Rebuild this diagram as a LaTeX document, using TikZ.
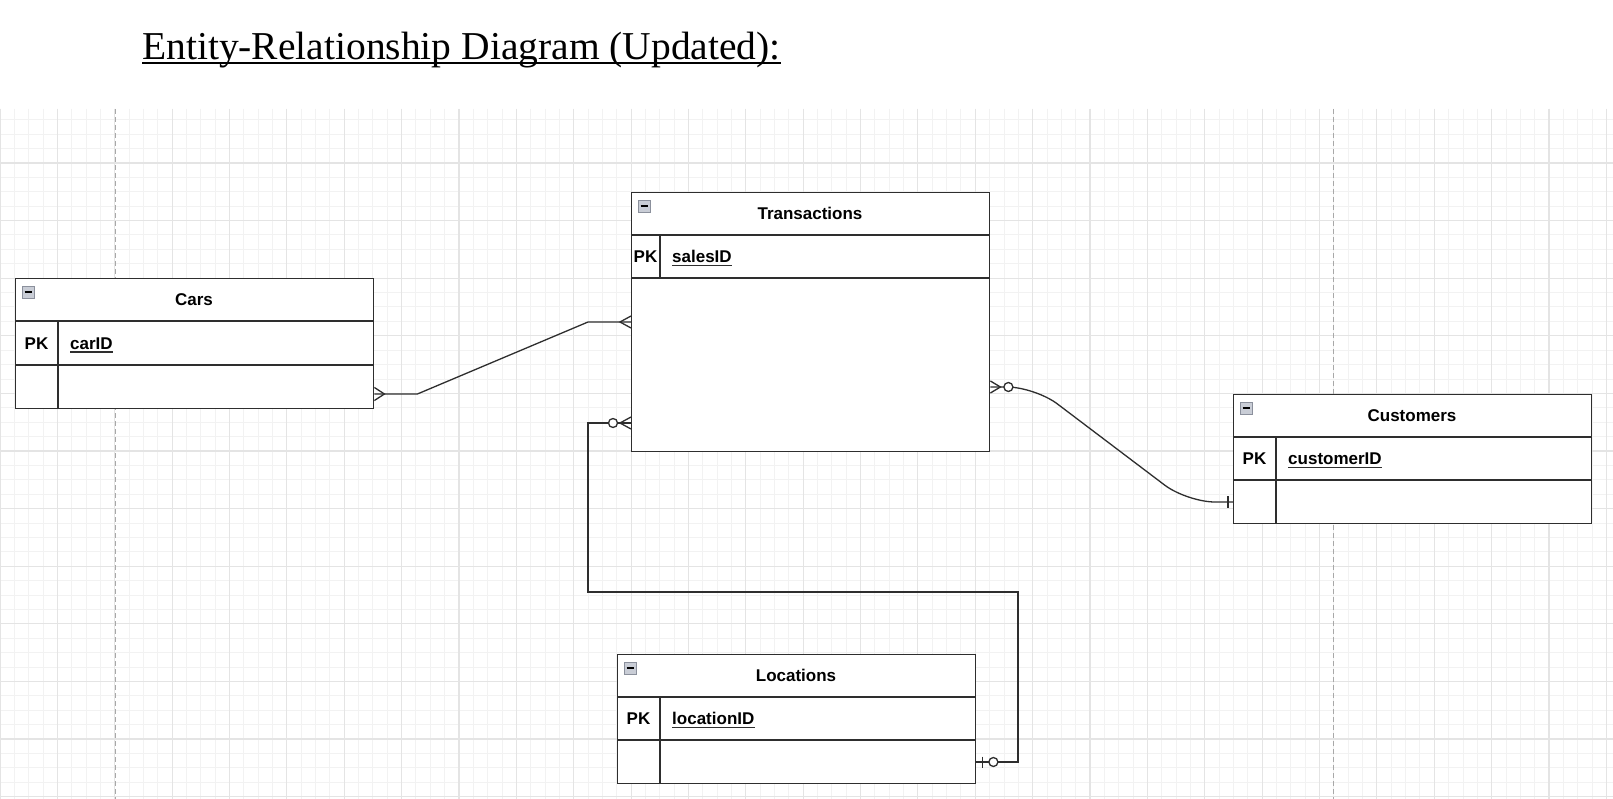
\documentclass[tikz,border=0pt]{standalone}
\usepackage{fontspec}
\setmainfont{Liberation Serif}
\newfontfamily\arialfont{Liberation Sans}
\definecolor{ln}{HTML}{2E2E2E}
\definecolor{gminor}{HTML}{F2F2F2}
\definecolor{gmajor}{HTML}{E4E4E4}
\definecolor{gdash}{HTML}{A8A8A8}
\definecolor{iconfill}{HTML}{C9CDD6}
\definecolor{iconline}{HTML}{8B909C}
\tikzset{
  gridminor/.style={draw=gminor, line width=1pt},
  gridmajor/.style={draw=gmajor, line width=1.1pt},
  pagedash/.style={draw=gdash, line width=1pt, dash pattern=on 5pt off 3pt},
  entbox/.style={draw=ln, fill=white, line width=1.4pt, rectangle, inner sep=0pt, anchor=north west, minimum width=358pt},
  sep/.style={draw=ln, line width=1.4pt},
  hdr/.style={font=\arialfont\bfseries\fontsize{17}{20}\selectfont, inner sep=0pt, anchor=base},
  pk/.style={font=\arialfont\bfseries\fontsize{17}{20}\selectfont, inner sep=0pt, anchor=base},
  attr/.style={font=\arialfont\bfseries\fontsize{17}{20}\selectfont, inner sep=0pt, anchor=base west},
  conn/.style={draw=ln, line width=1.3pt},
  ring/.style={draw=ln, fill=white, line width=1.3pt, circle, inner sep=0pt, minimum size=9pt},
}
\newcommand{\minusicon}[2]{%
  \draw[draw=iconline, fill=iconfill, line width=0.8pt] (#1+7,#2+8) rectangle (#1+19,#2+20);
  \draw[draw=black, line width=1.6pt] (#1+9.5,#2+14) -- (#1+16.5,#2+14);
}
\begin{document}
\begin{tikzpicture}[x=1pt, y=-1pt]
\useasboundingbox (0,0) rectangle (1613,799);
\fill[white] (0,0) rectangle (1613,799);

% grid
\foreach \i in {0,...,112} \draw[gridminor] (\i*14.343,109) -- (\i*14.343,799);
\foreach \j in {-3,...,44} \draw[gridminor] (0,163+\j*14.4) -- (1613,163+\j*14.4);
\foreach \i in {0,...,28} \draw[gridmajor] (\i*57.37,109) -- (\i*57.37,799);
\foreach \j in {0,...,11} \draw[gridmajor] (0,163+\j*57.6) -- (1613,163+\j*57.6);
\draw[pagedash] (115,109) -- (115,799);
\draw[pagedash] (1333,109) -- (1333,799);

% title
\node[inner sep=0pt, anchor=base west, font=\fontsize{39.5}{44}\selectfont] (title) at (142,60) {Entity-Relationship Diagram (Updated):};
\draw[black, line width=2pt] ([yshift=-3.5pt]title.base west) -- ([yshift=-3.5pt]title.base east);

% Cars
\node[entbox, minimum height=130pt] (cars) at (15,278) {};
\draw[sep] (15,321) -- (373,321);
\draw[sep] (15,365) -- (373,365);
\draw[sep] (58,321) -- (58,408);
\minusicon{15}{278}
\node[hdr] (carsT) at (194,305.6) {Cars};
\node[pk] (carsPK) at (36.5,349.1) {PK};
\node[attr] (carsA) at (70,349.1) {carID};
\draw[ln, line width=1.3pt] ([yshift=-3pt]carsA.base west) -- ([yshift=-3pt]carsA.base east);

% Transactions
\node[entbox, minimum height=259pt] (trans) at (631,192) {};
\draw[sep] (631,235) -- (989,235);
\draw[sep] (631,278) -- (989,278);
\draw[sep] (660,235) -- (660,278);
\minusicon{631}{192}
\node[hdr] (transT) at (810,219.6) {Transactions};
\node[pk] (transPK) at (645.5,262.6) {PK};
\node[attr] (transA) at (672,262.6) {salesID};
\draw[ln, line width=1.3pt] ([yshift=-3pt]transA.base west) -- ([yshift=-3pt]transA.base east);

% Customers
\node[entbox, minimum height=129pt] (cust) at (1233,394) {};
\draw[sep] (1233,437) -- (1592,437);
\draw[sep] (1233,480) -- (1592,480);
\draw[sep] (1276,437) -- (1276,523);
\minusicon{1233}{394}
\node[hdr] (custT) at (1412,421.6) {Customers};
\node[pk] (custPK) at (1254.5,464.6) {PK};
\node[attr] (custA) at (1288,464.6) {customerID};
\draw[ln, line width=1.3pt] ([yshift=-3pt]custA.base west) -- ([yshift=-3pt]custA.base east);

% Locations
\node[entbox, minimum height=129pt] (loc) at (617,654) {};
\draw[sep] (617,697) -- (975,697);
\draw[sep] (617,740) -- (975,740);
\draw[sep] (660,697) -- (660,783);
\minusicon{617}{654}
\node[hdr] (locT) at (796,681.6) {Locations};
\node[pk] (locPK) at (638.5,724.6) {PK};
\node[attr] (locA) at (672,724.6) {locationID};
\draw[ln, line width=1.3pt] ([yshift=-3pt]locA.base west) -- ([yshift=-3pt]locA.base east);

% connector end points
\coordinate (p1) at (cars.east |- 0,394);
\coordinate (p2) at (trans.west |- 0,322);
\coordinate (p3) at (trans.east |- 0,387);
\coordinate (p4) at (cust.west |- 0,502);
\coordinate (p5) at (trans.west |- 0,423);
\coordinate (p6) at (loc.east |- 0,762);

% Cars -- Transactions (many to many)
\draw[conn] (p1) -- ++(43,0) -- (588,322) -- (p2);
\draw[conn] (p1) ++(0,-6.5) -- ++(10,6.5) -- ++(-10,6.5);
\draw[conn] (p2) ++(0,-6) -- ++(-11,6) -- ++(11,6);

% Transactions -- Customers (zero-or-many to one)
\draw[conn, rounded corners=28pt] (p3) -- (1035,387) -- (1187,502) -- (p4);
\draw[conn] (p3) ++(0,-6) -- ++(10,6) -- ++(-10,6);
\node[ring] (r1) at ([xshift=18pt]p3) {};
\draw[conn] (p4) ++(-5,-6) -- ++(0,12);

% Transactions -- Locations (zero-or-many to zero-or-one)
\draw[conn] (p5) -- (588,423) -- (588,592) -- (1018,592) -- (1018,762) -- (p6);
\draw[conn] (p5) ++(0,-6) -- ++(-11,6) -- ++(11,6);
\node[ring] (r2) at ([xshift=-18pt]p5) {};
\draw[conn] (p6) ++(6,-5.5) -- ++(0,11);
\node[ring] (r3) at ([xshift=17pt]p6) {};
\end{tikzpicture}
\end{document}
